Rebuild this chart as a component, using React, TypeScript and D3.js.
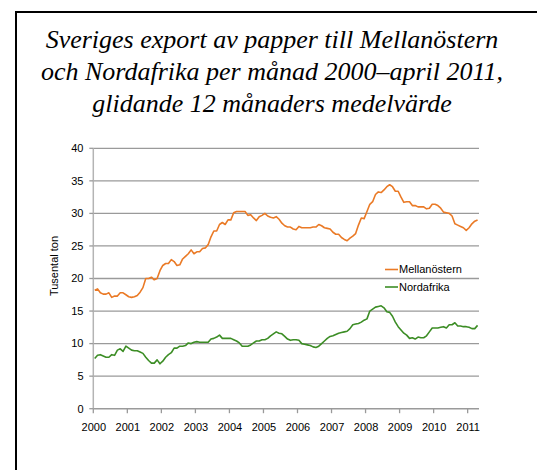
import React, {useEffect, useRef} from 'react'
import * as d3 from 'd3'

// Sveriges export av papper, glidande 12 mån medelvärde (tusental ton)
const years = ['2000', '2001', '2002', '2003', '2004', '2005', '2006', '2007', '2008', '2009', '2010', '2011']
const yTicks = [0, 5, 10, 15, 20, 25, 30, 35, 40]

// jan 2000 - apr 2011, 136 månader
const mellanostern = [
  18.2, 18.4, 17.8, 17.6, 17.6, 17.8, 17.1, 17.3, 17.3, 17.8, 17.8, 17.5,
  17.2, 17.1, 17.2, 17.4, 17.9, 18.6, 20.0, 20.0, 20.2, 19.8, 20.0, 21.2,
  22.0, 22.3, 22.3, 22.9, 22.6, 22.0, 22.1, 23.0, 23.4, 23.8, 24.4, 23.8,
  24.1, 24.1, 24.6, 24.7, 25.2, 26.4, 27.3, 27.3, 28.3, 28.6, 28.3, 29.0,
  29.0, 30.1, 30.3, 30.3, 30.3, 30.3, 29.7, 29.8, 29.3, 28.9, 29.5, 29.7,
  30.0, 29.6, 29.4, 29.3, 29.5, 29.1, 28.5, 28.1, 27.9, 27.9, 27.6, 27.5,
  28.0, 27.8, 27.8, 27.8, 27.8, 27.9, 27.9, 28.3, 28.1, 27.8, 27.7, 27.6,
  27.1, 26.8, 26.8, 26.3, 26.0, 25.8, 26.2, 26.5, 26.9, 28.2, 29.3, 29.2,
  30.3, 31.4, 31.8, 32.9, 33.3, 33.2, 33.6, 34.1, 34.4, 34.1, 33.4, 33.4,
  32.5, 31.7, 31.8, 31.8, 31.2, 31.2, 31.0, 31.0, 31.0, 30.7, 30.8, 31.4,
  31.4, 31.2, 30.8, 30.2, 30.1, 30.0, 29.6, 28.4, 28.2, 28.0, 27.8, 27.4,
  27.8, 28.4, 28.8, 29.0,
]

const nordafrika = [
  7.7, 8.2, 8.3, 8.1, 7.9, 7.9, 8.3, 8.2, 9.0, 9.2, 8.8, 9.6,
  9.3, 9.0, 8.9, 8.9, 8.7, 8.5, 7.9, 7.4, 7.0, 7.0, 7.5, 6.9,
  7.3, 7.9, 8.3, 8.6, 9.3, 9.3, 9.6, 9.6, 9.7, 10.1, 10.0, 10.2,
  10.3, 10.2, 10.2, 10.2, 10.2, 10.7, 10.8, 11.0, 11.3, 10.8, 10.8, 10.8,
  10.8, 10.6, 10.4, 10.1, 9.6, 9.6, 9.6, 9.8, 10.1, 10.4, 10.4, 10.6,
  10.6, 10.8, 11.2, 11.5, 11.8, 11.6, 11.5, 11.1, 10.7, 10.5, 10.6, 10.6,
  10.5, 10.0, 9.9, 9.8, 9.7, 9.5, 9.4, 9.6, 10.0, 10.4, 10.8, 11.1,
  11.2, 11.4, 11.6, 11.7, 11.8, 11.9, 12.3, 12.9, 13.0, 13.1, 13.3, 13.6,
  13.8, 15.0, 15.3, 15.6, 15.7, 15.8, 15.5, 14.9, 14.8, 14.2, 13.3, 12.6,
  12.1, 11.6, 11.3, 10.8, 10.9, 10.7, 11.0, 10.9, 10.9, 11.2, 11.8, 12.4,
  12.4, 12.4, 12.5, 12.6, 12.4, 12.9, 12.9, 13.2, 12.7, 12.7, 12.6, 12.6,
  12.5, 12.3, 12.3, 12.8,
]

const series = [
  {name: 'Mellanöstern', values: mellanostern, color: '#EA7A26'},
  {name: 'Nordafrika', values: nordafrika, color: '#3C8D25'},
]

const titleLines = [
  'Sveriges export av papper till Mellanöstern',
  'och Nordafrika per månad 2000–april 2011,',
  'glidande 12 månaders medelvärde',
]

const W = 537, H = 470

const App = () => {
  const ref = useRef<SVGGElement>(null)

  useEffect(() => {
    const svg = d3.select(ref.current)
    svg.selectAll('*').remove()

    const font = 'Liberation Sans'
    const n = mellanostern.length
    const x = d3.scaleLinear().domain([0, n]).range([93.3, 479])
    const y = d3.scaleLinear().domain([0, 40]).range([408.7, 148.3])

    // ram
    svg.append('rect')
      .attr('x', 16).attr('y', 12)
      .attr('width', W).attr('height', H)
      .attr('fill', 'none').attr('stroke', '#000').attr('stroke-width', 2)

    // rutnät
    svg.append('g')
      .selectAll('line')
      .data(yTicks.filter(t => t > 0))
      .join('line')
      .attr('x1', x(0)).attr('x2', x(n))
      .attr('y1', d => y(d)).attr('y2', d => y(d))
      .attr('stroke', '#9a9a9a').attr('stroke-width', 1.3)

    // y-axel
    const yAxis = svg.append('g')
    yAxis.append('line')
      .attr('x1', x(0)).attr('x2', x(0))
      .attr('y1', y(40)).attr('y2', y(0))
      .attr('stroke', '#b4b4b4').attr('stroke-width', 1.5)
    yAxis.selectAll('line.tick')
      .data(yTicks)
      .join('line')
      .attr('class', 'tick')
      .attr('x1', x(0) - 4).attr('x2', x(0))
      .attr('y1', d => y(d)).attr('y2', d => y(d))
      .attr('stroke', '#9a9a9a').attr('stroke-width', 1.3)
    yAxis.selectAll('text')
      .data(yTicks)
      .join('text')
      .attr('x', 83.5)
      .attr('y', d => y(d))
      .attr('dy', '0.35em')
      .attr('text-anchor', 'end')
      .attr('font-family', font).attr('font-size', 11)
      .attr('fill', '#000')
      .text(d => d)

    svg.append('text')
      .attr('transform', 'translate(58,266) rotate(-90)')
      .attr('text-anchor', 'middle')
      .attr('font-family', font).attr('font-size', 11)
      .attr('fill', '#000')
      .text('Tusental ton')

    // x-axel
    const xAxis = svg.append('g')
    xAxis.append('line')
      .attr('x1', x(0)).attr('x2', x(n))
      .attr('y1', y(0)).attr('y2', y(0))
      .attr('stroke', '#9a9a9a').attr('stroke-width', 1.5)
    xAxis.selectAll('line.tick')
      .data(years)
      .join('line')
      .attr('class', 'tick')
      .attr('x1', (d, i) => x(i * 12)).attr('x2', (d, i) => x(i * 12))
      .attr('y1', y(0)).attr('y2', y(0) + 4.5)
      .attr('stroke', '#9a9a9a').attr('stroke-width', 1.3)
    xAxis.selectAll('text')
      .data(years)
      .join('text')
      .attr('x', (d, i) => x(i * 12) + 0.5)
      .attr('y', 430.5)
      .attr('text-anchor', 'middle')
      .attr('font-family', font).attr('font-size', 11)
      .attr('fill', '#000')
      .text(d => d)

    // linjer
    const line = d3.line<number>()
      .x((d, i) => x(i + 0.5))
      .y(d => y(d))

    svg.append('g')
      .selectAll('path')
      .data(series)
      .join('path')
      .attr('d', d => line(d.values))
      .attr('fill', 'none')
      .attr('stroke', d => d.color)
      .attr('stroke-width', 1.6)
      .attr('stroke-linejoin', 'round')

    // legend
    const leg = svg.append('g')
      .selectAll('g')
      .data(series)
      .join('g')
      .attr('transform', (d, i) => `translate(385,${269.5 + i * 17.5})`)
    leg.append('line')
      .attr('x1', 0).attr('x2', 13)
      .attr('stroke', d => d.color).attr('stroke-width', 1.6)
    leg.append('text')
      .attr('x', 14)
      .attr('dy', '0.35em')
      .attr('font-family', font).attr('font-size', 11)
      .attr('fill', '#000')
      .text(d => d.name)
  }, [])

  return <svg width={W} height={H}
    style={{position: 'absolute', left: 0, top: 0, background: '#fff'}}>
    <g ref={ref} />
    {titleLines.map((t, i) => (
      <text key={i} x={272} y={48 + i * 32} textAnchor="middle"
        fontFamily="Liberation Serif" fontStyle="italic" fontSize={26} fill="#000">{t}</text>
    ))}
  </svg>
}

export default App
